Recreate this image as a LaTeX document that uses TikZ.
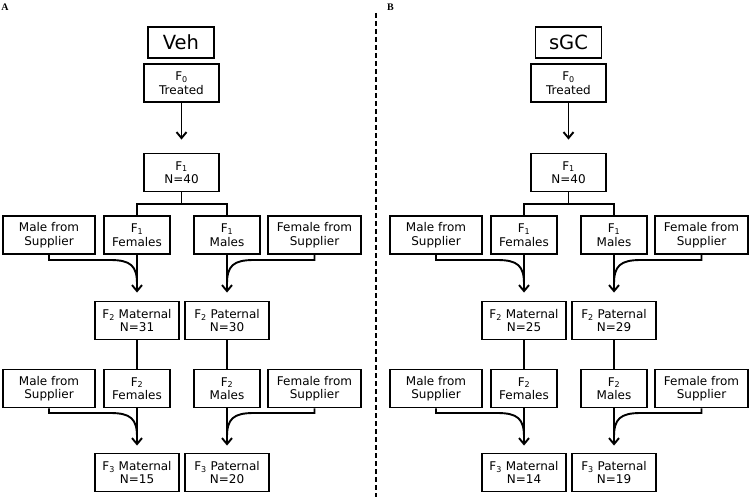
\documentclass[tikz,border=0pt]{standalone}
\usepackage{fontspec}
\setmainfont{DejaVu Sans}
\newfontfamily\panelfont{Liberation Serif}
\usetikzlibrary{arrows.meta}

\tikzset{
  box/.style={draw, line width=1.9pt, inner sep=0pt, align=center, minimum height=38pt,
    font=\fontsize{12}{13.5}\selectfont},
  titlebox/.style={draw, line width=1.9pt, inner sep=0pt, minimum width=66pt, minimum height=31pt,
    font=\fontsize{19.5}{19.5}\selectfont},
  panel/.style={inner sep=0pt, font=\panelfont\bfseries\fontsize{10}{10}\selectfont},
  lien/.style={line width=1.9pt},
  fleche/.style={line width=1.9pt, -{Straight Barb[length=6pt,width=10pt]}}
}

\begin{document}
\begin{tikzpicture}[x=1pt, y=-1pt]
\useasboundingbox (0,0) rectangle (750,497);

% Séparation
\draw[line width=2pt, dash pattern=on 5pt off 3pt] (376,13) -- (376,497);

% ===== Panneau A =====
\node[panel] (labA) at (5,7) {A};
\node[titlebox] (AVeh) at (181,42.5) {Veh};
\node[box, minimum width=75pt] (AF0) at (181.5,83) {F\textsubscript{0}\\Treated};
\node[box, minimum width=75pt] (AF1) at (181.5,172.5) {F\textsubscript{1}\\N=40};

% Niveau 1
\node[box, minimum width=92pt] (AMS1) at (49,235) {Male from\\Supplier};
\node[box, minimum width=66pt] (AF1f) at (137,235) {F\textsubscript{1}\\Females};
\node[box, minimum width=66pt] (AF1m) at (227,235) {F\textsubscript{1}\\Males};
\node[box, minimum width=93pt] (AFS1) at (314.5,235) {Female from\\Supplier};

% F2
\node[box, minimum width=84pt] (AF2mat) at (137,320.5) {F\textsubscript{2} Maternal\\N=31};
\node[box, minimum width=84pt] (AF2pat) at (227,320.5) {F\textsubscript{2} Paternal\\N=30};

% Niveau 2
\node[box, minimum width=92pt] (AMS2) at (49,388.5) {Male from\\Supplier};
\node[box, minimum width=66pt] (AF2f) at (137,388.5) {F\textsubscript{2}\\Females};
\node[box, minimum width=66pt] (AF2m) at (227,388.5) {F\textsubscript{2}\\Males};
\node[box, minimum width=93pt] (AFS2) at (314.5,388.5) {Female from\\Supplier};

% F3
\node[box, minimum width=84pt] (AF3mat) at (137,472.5) {F\textsubscript{3} Maternal\\N=15};
\node[box, minimum width=84pt] (AF3pat) at (227,472.5) {F\textsubscript{3} Paternal\\N=20};

% Points de jonction
\coordinate (Aj1) at (137,284);
\coordinate (Aj2) at (227,284);
\coordinate (Aj3) at (137,437);
\coordinate (Aj4) at (227,437);

% Branches
\draw[fleche, shorten >=13pt] (AF0.south) -- (AF1.north);
\draw[lien] (AF1.south) -- ++(0,12) -| (AF1f.north);
\draw[lien] (AF1.south) -- ++(0,12) -| (AF1m.north);
\draw[fleche, shorten >=8pt] (AF1f.south) -- (AF2mat.north);
\draw[fleche, shorten >=8pt] (AF1m.south) -- (AF2pat.north);
\draw[lien] (AMS1.south) |- (110,260) .. controls (131,260) and (137,266) .. (Aj1);
\draw[lien] (AFS1.south) |- (254,260) .. controls (233,260) and (227,266) .. (Aj2);
\draw[lien] (AF2mat.south) -- (AF2f.north);
\draw[lien] (AF2pat.south) -- (AF2m.north);
\draw[fleche, shorten >=7pt] (AF2f.south) -- (AF3mat.north);
\draw[fleche, shorten >=7pt] (AF2m.south) -- (AF3pat.north);
\draw[lien] (AMS2.south) |- (110,413) .. controls (131,413) and (137,419) .. (Aj3);
\draw[lien] (AFS2.south) |- (254,413) .. controls (233,413) and (227,419) .. (Aj4);

% ===== Panneau B =====
\begin{scope}[xshift=387pt]
\node[panel] (labB) at (3.5,7) {B};
\node[titlebox] (BsGC) at (181.5,42.5) {sGC};
\node[box, minimum width=75pt] (BF0) at (181.5,83) {F\textsubscript{0}\\Treated};
\node[box, minimum width=75pt] (BF1) at (181.5,172.5) {F\textsubscript{1}\\N=40};

% Niveau 1
\node[box, minimum width=92pt] (BMS1) at (49,235) {Male from\\Supplier};
\node[box, minimum width=66pt] (BF1f) at (137,235) {F\textsubscript{1}\\Females};
\node[box, minimum width=66pt] (BF1m) at (227,235) {F\textsubscript{1}\\Males};
\node[box, minimum width=93pt] (BFS1) at (314.5,235) {Female from\\Supplier};

% F2
\node[box, minimum width=84pt] (BF2mat) at (137,320.5) {F\textsubscript{2} Maternal\\N=25};
\node[box, minimum width=84pt] (BF2pat) at (227,320.5) {F\textsubscript{2} Paternal\\N=29};

% Niveau 2
\node[box, minimum width=92pt] (BMS2) at (49,388.5) {Male from\\Supplier};
\node[box, minimum width=66pt] (BF2f) at (137,388.5) {F\textsubscript{2}\\Females};
\node[box, minimum width=66pt] (BF2m) at (227,388.5) {F\textsubscript{2}\\Males};
\node[box, minimum width=93pt] (BFS2) at (314.5,388.5) {Female from\\Supplier};

% F3
\node[box, minimum width=84pt] (BF3mat) at (137,472.5) {F\textsubscript{3} Maternal\\N=14};
\node[box, minimum width=84pt] (BF3pat) at (227,472.5) {F\textsubscript{3} Paternal\\N=19};

% Points de jonction
\coordinate (Bj1) at (137,284);
\coordinate (Bj2) at (227,284);
\coordinate (Bj3) at (137,437);
\coordinate (Bj4) at (227,437);

% Branches
\draw[fleche, shorten >=13pt] (BF0.south) -- (BF1.north);
\draw[lien] (BF1.south) -- ++(0,12) -| (BF1f.north);
\draw[lien] (BF1.south) -- ++(0,12) -| (BF1m.north);
\draw[fleche, shorten >=8pt] (BF1f.south) -- (BF2mat.north);
\draw[fleche, shorten >=8pt] (BF1m.south) -- (BF2pat.north);
\draw[lien] (BMS1.south) |- (110,260) .. controls (131,260) and (137,266) .. (Bj1);
\draw[lien] (BFS1.south) |- (254,260) .. controls (233,260) and (227,266) .. (Bj2);
\draw[lien] (BF2mat.south) -- (BF2f.north);
\draw[lien] (BF2pat.south) -- (BF2m.north);
\draw[fleche, shorten >=7pt] (BF2f.south) -- (BF3mat.north);
\draw[fleche, shorten >=7pt] (BF2m.south) -- (BF3pat.north);
\draw[lien] (BMS2.south) |- (110,413) .. controls (131,413) and (137,419) .. (Bj3);
\draw[lien] (BFS2.south) |- (254,413) .. controls (233,413) and (227,419) .. (Bj4);
\end{scope}

\end{tikzpicture}
\end{document}
